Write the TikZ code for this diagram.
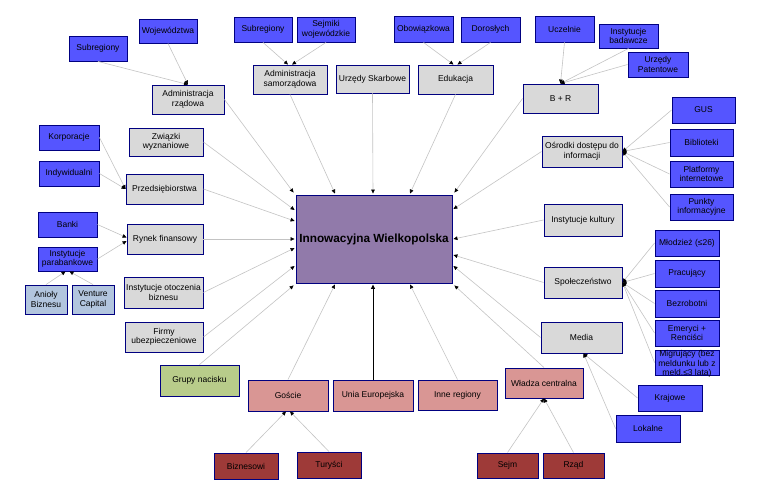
\documentclass[tikz,border=0pt]{standalone}
\usepackage{fontspec}
\setmainfont{Liberation Sans}
\usetikzlibrary{arrows.meta,calc}
\definecolor{bluefill}{RGB}{85,85,255}
\definecolor{navyline}{RGB}{0,0,128}
\definecolor{grayfill}{RGB}{217,217,217}
\definecolor{purplefill}{RGB}{145,122,170}
\definecolor{pinkfill}{RGB}{217,150,148}
\definecolor{darkredfill}{RGB}{158,58,56}
\definecolor{greenfill}{RGB}{184,204,138}
\definecolor{steelfill}{RGB}{178,197,222}
\definecolor{lgray}{RGB}{195,195,195}
\newcommand\bx[7]{\node[#6, minimum width={#4-#2}, minimum height={#5-#3}] (#1) at ({(#2+#4)/2},{(#3+#5)/2}) {#7};}
\tikzset{
  box/.style={draw=navyline, line width=0.9pt, inner sep=0pt, align=center, text=black, font=\fontsize{8.5}{9.5}\selectfont},
  bl/.style={box, fill=bluefill},
  gr/.style={box, fill=grayfill},
  st/.style={box, fill=steelfill},
  gn/.style={box, fill=greenfill},
  pk/.style={box, fill=pinkfill},
  dr/.style={box, fill=darkredfill},
  pu/.style={box, fill=purplefill, font=\bfseries\fontsize{11.8}{13}\selectfont},
  conn/.style={draw=lgray, line width=0.6pt, -{Triangle[length=4pt,width=3.6pt,color=black]}},
  thickconn/.style={draw=black, line width=1pt, -{Triangle[length=4.5pt,width=4pt,color=black]}}
}
\begin{document}
\begin{tikzpicture}[x=1pt,y=-1pt]
\useasboundingbox (0,0) rectangle (764,490);
% central
\bx{iw}{296}{195}{452}{283}{pu}{Innowacyjna Wielkopolska}
% blue
\bx{sub1}{69}{36}{127}{61}{bl}{Subregiony}
\bx{woj}{139}{19}{197}{43}{bl}{Województwa}
\bx{sub2}{234}{17}{292}{42}{bl}{Subregiony}
\bx{sejw}{297}{17}{355}{42}{bl}{Sejmiki\\wojewódzkie}
\bx{obo}{394}{16}{453}{42}{bl}{Obowiązkowa}
\bx{dor}{461}{17}{520}{42}{bl}{Dorosłych}
\bx{ucz}{535}{16}{594}{42}{bl}{Uczelnie}
\bx{inb}{599}{24}{658}{48}{bl}{Instytucje\\badawcze}
\bx{urp}{628}{52}{688}{77}{bl}{Urzędy\\Patentowe}
\bx{gus}{672}{97}{735}{123}{bl}{GUS}
\bx{bib}{670}{129}{733}{156}{bl}{Biblioteki}
\bx{pla}{670}{161}{733}{187}{bl}{Platformy\\internetowe}
\bx{pun}{670}{194}{733}{220}{bl}{Punkty\\informacyjne}
\bx{kor}{39}{125}{99}{150}{bl}{Korporacje}
\bx{ind}{39}{161}{99}{186}{bl}{Indywidualni}
\bx{ban}{38}{212}{97}{237}{bl}{Banki}
\bx{par}{38}{247}{97}{271}{bl}{Instytucje\\parabankowe}
\bx{mlo}{655}{230}{719}{256}{bl}{Młodzież (≤26)}
\bx{pra}{655}{260}{719}{287}{bl}{Pracujący}
\bx{bez}{655}{290}{719}{317}{bl}{Bezrobotni}
\bx{eme}{655}{320}{719}{346}{bl}{Emeryci +\\Renciści}
\bx{mig}{655}{350}{719}{375}{bl}{\smash{\raisebox{-4pt}{\begin{tabular}{@{}c@{}}Migrujący (bez\\meldunku lub z\\meld.≤3 lata)\end{tabular}}}}
\bx{kra}{638}{385}{702}{411}{bl}{Krajowe}
\bx{lok}{616}{415}{680}{442}{bl}{Lokalne}
% gray
\bx{admr}{152}{85}{224}{114}{gr}{Administracja\\rządowa}
\bx{adms}{253}{65}{327}{94}{gr}{Administracja\\samorządowa}
\bx{urz}{336}{65}{409}{93}{gr}{Urzędy Skarbowe}
\bx{edu}{418}{65}{493}{94}{gr}{Edukacja}
\bx{br}{523}{84}{598}{113}{gr}{B + R}
\bx{osr}{542}{136}{622}{167}{gr}{Ośrodki dostępu do\\informacji}
\bx{kul}{544}{204}{622}{236}{gr}{Instytucje kultury}
\bx{zw}{129}{128}{203}{156}{gr}{Związki\\wyznaniowe}
\bx{prz}{126}{174}{203}{204}{gr}{Przedsiębiorstwa}
\bx{ryn}{127}{224}{203}{254}{gr}{Rynek finansowy}
\bx{iob}{124}{277}{203}{308}{gr}{Instytucje otoczenia\\biznesu}
\bx{fir}{125}{322}{203}{352}{gr}{Firmy\\ubezpieczeniowe}
\bx{spo}{544}{267}{622}{298}{gr}{Społeczeństwo}
\bx{med}{541}{322}{622}{353}{gr}{Media}
% steel
\bx{ani}{25}{285}{67}{314}{st}{Anioły\\Biznesu}
\bx{ven}{72}{285}{114}{314}{st}{Venture\\Capital}
% green
\bx{gru}{160}{365}{239}{396}{gn}{Grupy nacisku}
% pink
\bx{gos}{248}{380}{328}{411}{pk}{Goście}
\bx{ue}{333}{380}{413}{411}{pk}{Unia Europejska}
\bx{inr}{418}{380}{497}{410}{pk}{Inne regiony}
\bx{wla}{505}{368}{583}{398}{pk}{Władza centralna}
% dark red
\bx{biz}{214}{453}{278}{479}{dr}{Biznesowi}
\bx{tur}{297}{452}{361}{478}{dr}{Turyści}
\bx{sjm}{477}{453}{538}{478}{dr}{Sejm}
\bx{rza}{543}{453}{604}{478}{dr}{Rząd}
% connectors to central
\draw[conn] (admr.east) -- ($(iw.north west)+(-2,-2)$);
\draw[conn] (adms.south) -- ($(iw.north)+(-39,-1)$);
\draw[conn] (urz.south) -- ($(iw.north)+(-1,-1)$);
\draw[conn] (edu.south) -- ($(iw.north)+(36,-1)$);
\draw[conn] (br.west) -- ($(iw.north east)+(2,-2)$);
\draw[conn] (zw.east) -- ($(iw.west)+(-1,-29)$);
\draw[conn] (prz.east) -- ($(iw.west)+(-1,-18)$);
\draw[conn] (ryn.east) -- ($(iw.west)+(-1,0)$);
\draw[conn] (iob.east) -- ($(iw.west)+(-1,9)$);
\draw[conn] (fir.east) -- ($(iw.west)+(-1,27)$);
\draw[conn] (gru.north) -- ($(iw.south west)+(-2,2)$);
\draw[conn] (osr.west) -- ($(iw.east)+(1,-30)$);
\draw[conn] (kul.west) -- ($(iw.east)+(1,0)$);
\draw[conn] (spo.west) -- ($(iw.east)+(1,16)$);
\draw[conn] (med.west) -- ($(iw.east)+(1,27)$);
\draw[conn] (wla.north) -- ($(iw.south east)+(2,2)$);
\draw[conn] (gos.north) -- ($(iw.south)+(-39,1)$);
\draw[thickconn] (ue.north) -- ($(iw.south)+(-1,1)$);
\draw[conn] (inr.north) -- ($(iw.south)+(36,1)$);
% sub-level connectors
\draw[conn] (sub1.south) -- (admr.north);
\draw[conn] (woj.south) -- (admr.north);
\draw[conn] (sub2.south) -- ($(adms.north)+(-2,0)$);
\draw[conn] (sejw.south) -- ($(adms.north)+(2,0)$);
\draw[conn] (obo.south) -- ($(edu.north)+(-2,0)$);
\draw[conn] (dor.south) -- ($(edu.north)+(2,0)$);
\draw[conn] (ucz.south) -- (br.north);
\draw[conn] (inb.south) -- (br.north);
\draw[conn] (urp.west) -- (br.north);
\draw[conn] (gus.west) -- (osr.east);
\draw[conn] (bib.west) -- (osr.east);
\draw[conn] (pla.west) -- (osr.east);
\draw[conn] (pun.west) -- (osr.east);
\draw[conn] (kor.east) -- (prz.west);
\draw[conn] (ind.east) -- (prz.west);
\draw[conn] (ban.east) -- ($(ryn.west)+(0,-1.5)$);
\draw[conn] (par.east) -- ($(ryn.west)+(0,2)$);
\draw[conn] (ani.north) -- ($(par.south)+(-2,0)$);
\draw[conn] (ven.north) -- ($(par.south)+(2,0)$);
\draw[conn] (mlo.west) -- (spo.east);
\draw[conn] (pra.west) -- (spo.east);
\draw[conn] (bez.west) -- (spo.east);
\draw[conn] (eme.west) -- (spo.east);
\draw[conn] (mig.west) -- (spo.east);
\draw[conn] (kra.west) -- ($(med.south)+(2,0)$);
\draw[conn] (lok.west) -- ($(med.south)+(2,0)$);
\draw[conn] (biz.north) -- ($(gos.south)+(-2,0)$);
\draw[conn] (tur.north) -- ($(gos.south)+(2,0)$);
\draw[conn] (sjm.north) -- (wla.south);
\draw[conn] (rza.north) -- (wla.south);
\end{tikzpicture}
\end{document}
